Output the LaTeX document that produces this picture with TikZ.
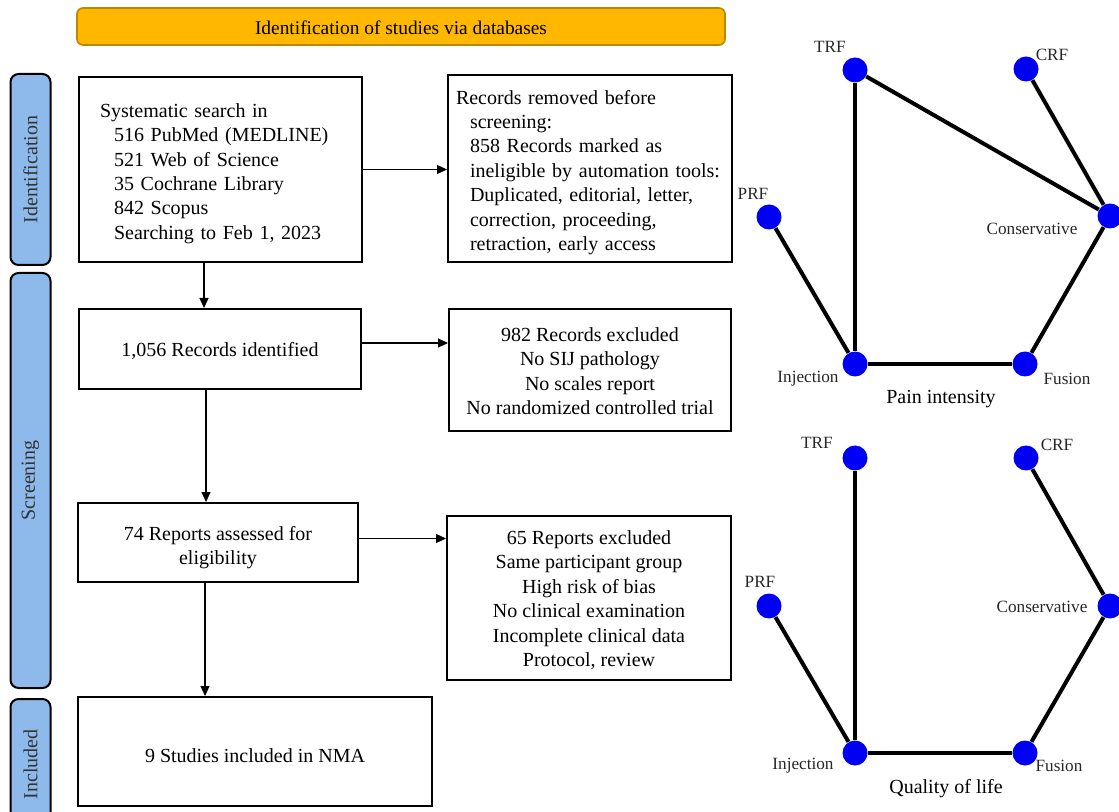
\documentclass[tikz,border=0pt]{standalone}
\usepackage{fontspec}
\setmainfont{Liberation Serif}
\usetikzlibrary{arrows.meta,positioning}

\definecolor{bannerorange}{RGB}{255,183,0}
\definecolor{bannerdark}{RGB}{185,135,0}
\definecolor{barblue}{RGB}{141,185,235}
\definecolor{netblue}{RGB}{0,0,245}
\newcommand{\flowfont}{\fontsize{10}{12.2}\selectfont}
\newcommand{\netfont}{\fontsize{8.6}{10}\selectfont}
\newcommand{\boxstrut}[1]{\rule{0pt}{\dimexpr7pt+#1\relax}}

\begin{document}
\begin{tikzpicture}[x=0.5pt, y=-0.5pt,
    box/.style={draw, line width=1pt, font=\flowfont, align=center, inner sep=0pt},
    sidebar/.style={draw, line width=1pt, fill=barblue, rounded corners=4pt, rotate=90,
        minimum height=20pt, inner sep=0pt, font=\fontsize{10}{12}\selectfont, text=black!80},
    arr/.style={-{Triangle[length=5pt,width=4.5pt]}, line width=0.6pt},
    tnode/.style={circle, fill=netblue, minimum size=12.5pt, inner sep=0pt},
    tlabel/.style={font=\netfont, text=black!85},
    edge/.style={line width=2pt}]
    \useasboundingbox (0,0) rectangle (1119,812);

    % Banner
    \node[draw=bannerdark, fill=bannerorange, rounded corners=3pt, line width=0.8pt,
        minimum width=324pt, minimum height=18.5pt, font=\fontsize{9.7}{11}\selectfont]
        (banner) at (401,26.5) {\boxstrut{1pt}Identification of studies via databases};

    % Side bars
    \node[sidebar, minimum width=95.5pt] (idbar) at (30.5,169.5) {Identification};
    \node[sidebar, minimum width=207.5pt] (scrbar) at (30.5,480.5) {Screening};
    \node[sidebar, minimum width=65.5pt] (incbar) at (30.5,764.5) {Included};

    % Flow boxes
    \node[box, align=left, text width=120.5pt, inner xsep=10.5pt, minimum height=92.5pt]
        (search) at (220.5,169.5) {\boxstrut{4pt}Systematic search in\\
        \hspace*{7pt}516 PubMed (MEDLINE)\\
        \hspace*{7pt}521 Web of Science\\
        \hspace*{7pt}35 Cochrane Library\\
        \hspace*{7pt}842 Scopus\\
        \hspace*{7pt}Searching to Feb 1, 2023};
    \node[box, align=left, text width=134pt, inner xsep=4pt, minimum height=93.5pt]
        (removed) at (590,168.5) {\boxstrut{4pt}Records removed before\\
        \hspace*{7pt}screening:\\
        \hspace*{7pt}858 Records marked as\\
        \hspace*{7pt}ineligible by automation tools:\\
        \hspace*{7pt}Duplicated, editorial, letter,\\
        \hspace*{7pt}correction, proceeding,\\
        \hspace*{7pt}retraction, early access};
    \node[box, minimum width=141pt, minimum height=40pt] (recs) at (220,349)
        {\boxstrut{2pt}1,056 Records identified};
    \node[box, minimum width=141pt, minimum height=61pt] (excl1) at (590,370)
        {\boxstrut{1pt}982 Records excluded\\ No SIJ pathology\\ No scales report\\ No randomized controlled trial};
    \node[box, minimum width=140pt, minimum height=39.5pt] (reports) at (218,542.5)
        {\boxstrut{5pt}74 Reports assessed for\\ eligibility};
    \node[box, minimum width=142pt, minimum height=82pt] (excl2) at (589,598)
        {\boxstrut{2pt}65 Reports excluded\\ Same participant group\\ High risk of bias\\
        No clinical examination\\ Incomplete clinical data\\ Protocol, review};
    \node[box, minimum width=177pt, minimum height=54.5pt] (incl) at (255,751.5)
        {\boxstrut{4pt}9 Studies included in NMA};

    % Arrows
    \draw[arr] ([xshift=-8.25pt]search.south) -- ([xshift=-8.25pt]search.south |- recs.north);
    \draw[arr] (search.east) -- (search.east -| removed.west);
    \draw[arr] ([xshift=-7pt]recs.south) -- ([xshift=-7pt]recs.south |- reports.north);
    \draw[arr] ([yshift=3pt]recs.east) -- ([yshift=3pt]recs.east -| excl1.west);
    \draw[arr] ([xshift=-6.5pt]reports.south) -- ([xshift=-6.5pt]reports.south |- incl.north);
    \draw[arr] ([yshift=2pt]reports.east) -- ([yshift=2pt]reports.east -| excl2.west);

    % Network: pain intensity
    \node[tnode] (trfA) at (855,70) {};
    \node[tnode] (crfA) at (1026,69) {};
    \node[tnode] (prfA) at (769,217) {};
    \node[tnode] (consA) at (1110,216) {};
    \node[tnode] (injA) at (855,364) {};
    \node[tnode] (fusA) at (1025,364) {};
    \draw[edge] (trfA) -- (injA);
    \draw[edge] (trfA) -- (consA);
    \draw[edge] (crfA) -- (consA);
    \draw[edge] (prfA) -- (injA);
    \draw[edge] (injA) -- (fusA);
    \draw[edge] (fusA) -- (consA);
    \node[tlabel] (trfAl) at (830,47) {TRF};
    \node[tlabel] (crfAl) at (1052,55) {CRF};
    \node[tlabel] (prfAl) at (753,194) {PRF};
    \node[tlabel] (consAl) at (1032,229) {Conservative};
    \node[tlabel] (injAl) at (808,379) {Injection};
    \node[tlabel] (fusAl) at (1067,379) {Fusion};
    \node[font=\flowfont] (painT) at (941,399) {Pain intensity};

    % Network: quality of life
    \node[tnode] (trfB) at (855,458) {};
    \node[tnode] (crfB) at (1026,458) {};
    \node[tnode] (prfB) at (769,606) {};
    \node[tnode] (consB) at (1110,606) {};
    \node[tnode] (injB) at (855,753) {};
    \node[tnode] (fusB) at (1025,753) {};
    \draw[edge] (trfB) -- (injB);
    \draw[edge] (crfB) -- (consB);
    \draw[edge] (prfB) -- (injB);
    \draw[edge] (injB) -- (fusB);
    \draw[edge] (fusB) -- (consB);
    \node[tlabel] (trfBl) at (817,443) {TRF};
    \node[tlabel] (crfBl) at (1057,445) {CRF};
    \node[tlabel] (prfBl) at (760,582) {PRF};
    \node[tlabel] (consBl) at (1042,607) {Conservative};
    \node[tlabel] (injBl) at (803,766) {Injection};
    \node[tlabel] (fusBl) at (1059,766) {Fusion};
    \node[font=\flowfont] (qolT) at (946,789) {Quality of life};
\end{tikzpicture}
\end{document}
